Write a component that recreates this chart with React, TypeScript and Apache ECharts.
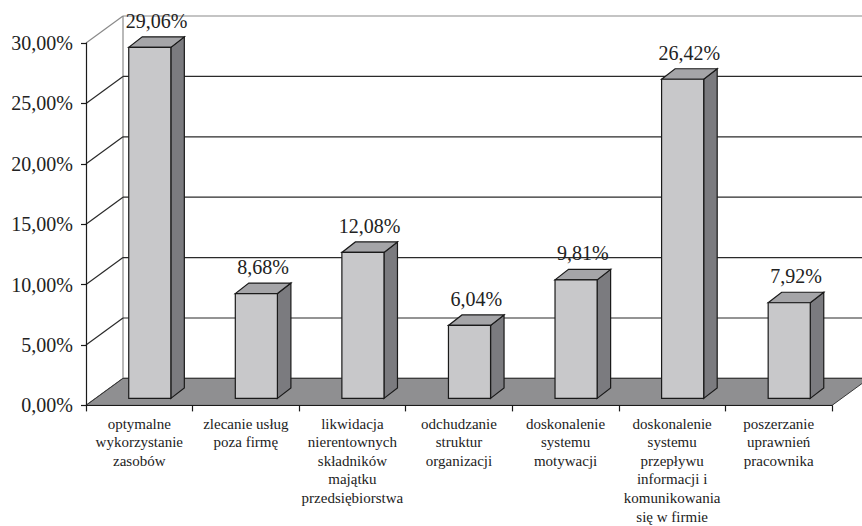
import React, { useEffect, useRef } from "react";
import * as echarts from "echarts";

const categories = [
  "optymalne\nwykorzystanie\nzasobów",
  "zlecanie usług\npoza firmę",
  "likwidacja\nnierentownych\nskładników\nmajątku\nprzedsiębiorstwa",
  "odchudzanie\nstruktur\norganizacji",
  "doskonalenie\nsystemu\nmotywacji",
  "doskonalenie\nsystemu\nprzepływu\ninformacji i\nkomunikowania\nsię w firmie",
  "poszerzanie\nuprawnień\npracownika",
];
const values = [29.06, 8.68, 12.08, 6.04, 9.81, 26.42, 7.92];
const yTicks = [0, 5, 10, 15, 20, 25, 30];

const fmt = (v: number) => v.toFixed(2).replace(".", ",") + "%";
const FONT = "Liberation Serif, Times New Roman, serif";

// 3D geometry (pixels)
const WALL_DX = 37;
const WALL_DY = -27;
const BAR_OX = 10.5;
const BAR_OY = -7;
const BAR_DX = 13.5;
const BAR_DY = -10.5;

export default function App() {
  const ref = useRef<HTMLDivElement>(null);
  useEffect(() => {
    if (!ref.current) return;
    const chart = echarts.init(ref.current, undefined, { renderer: "svg" });
    chart.setOption({
      animation: false,
      backgroundColor: "#ffffff",
      textStyle: { fontFamily: FONT },
      grid: { left: 86, right: 30, top: 43, bottom: 119 },
      xAxis: {
        type: "category",
        data: categories,
        z: 10,
        axisLine: { show: true, lineStyle: { color: "#1a1a1a", width: 1.2 } },
        axisTick: { show: true, length: 6, lineStyle: { color: "#1a1a1a", width: 1.2 } },
        axisLabel: {
          interval: 0,
          margin: 9,
          color: "#222",
          fontFamily: FONT,
          fontSize: 15,
          lineHeight: 18.6,
        },
      },
      yAxis: {
        type: "value",
        min: 0,
        max: 30,
        interval: 5,
        z: 10,
        axisLine: { show: true, lineStyle: { color: "#1a1a1a", width: 1.2 } },
        axisTick: { show: true, length: 5, lineStyle: { color: "#1a1a1a", width: 1.2 } },
        splitLine: { show: false },
        axisLabel: {
          margin: 13,
          color: "#222",
          fontFamily: FONT,
          fontSize: 20,
          formatter: (v: number) => fmt(v),
        },
      },
      series: [
        {
          type: "custom",
          z: 1,
          data: yTicks.map((t) => [0, t]),
          renderItem: (params: any, api: any) => {
            const cs = params.coordSys;
            const t = api.value(1);
            const y = api.coord([0, t])[1];
            const x = cs.x;
            const top = t === 30;
            const col = top ? "#8a8a8a" : "#2a2a2a";
            const children: any[] = [
              {
                type: "line",
                shape: { x1: x, y1: y, x2: x + WALL_DX, y2: y + WALL_DY },
                style: { stroke: col, lineWidth: 1.2 },
              },
              {
                type: "line",
                shape: { x1: x + WALL_DX, y1: y + WALL_DY, x2: x + cs.width + WALL_DX + 40, y2: y + WALL_DY },
                style: { stroke: col, lineWidth: 1.2 },
              },
            ];
            if (t === 0) {
              const yTop = api.coord([0, 30])[1];
              children.push({
                type: "line",
                shape: { x1: x + WALL_DX, y1: y + WALL_DY, x2: x + WALL_DX, y2: yTop + WALL_DY },
                style: { stroke: "#8a8a8a", lineWidth: 1.2 },
              });
              children.push({
                type: "polygon",
                z2: 5,
                shape: {
                  points: [
                    [x, y],
                    [x + cs.width, y],
                    [x + cs.width + WALL_DX, y + WALL_DY],
                    [x + WALL_DX, y + WALL_DY],
                  ],
                },
                style: { fill: "#8f8f91", stroke: "#3a3a3a", lineWidth: 1 },
              });
            }
            return { type: "group", children };
          },
        },
        {
          type: "custom",
          z: 3,
          data: values.map((v, i) => [i, v]),
          renderItem: (params: any, api: any) => {
            const i = api.value(0);
            const v = api.value(1);
            const base = api.coord([i, 0]);
            const topP = api.coord([i, v]);
            const bw = api.size([1, 0])[0];
            const w = bw * 0.395;
            const x0 = base[0] - w / 2 + BAR_OX;
            const x1 = x0 + w;
            const yb = base[1] + BAR_OY;
            const yt = topP[1] + BAR_OY;
            const stroke = "#1a1a1a";
            return {
              type: "group",
              children: [
                {
                  type: "polygon",
                  shape: {
                    points: [
                      [x1, yb],
                      [x1 + BAR_DX, yb + BAR_DY],
                      [x1 + BAR_DX, yt + BAR_DY],
                      [x1, yt],
                    ],
                  },
                  style: { fill: "#7b7b7f", stroke, lineWidth: 1.2 },
                },
                {
                  type: "polygon",
                  shape: {
                    points: [
                      [x0, yt],
                      [x1, yt],
                      [x1 + BAR_DX, yt + BAR_DY],
                      [x0 + BAR_DX, yt + BAR_DY],
                    ],
                  },
                  style: { fill: "#a5a5a8", stroke, lineWidth: 1.2 },
                },
                {
                  type: "rect",
                  shape: { x: x0, y: yt, width: w, height: yb - yt },
                  style: { fill: "#c8c8ca", stroke, lineWidth: 1.2 },
                },
                {
                  type: "text",
                  style: {
                    text: fmt(v),
                    x: x0 + w / 2 + BAR_DX / 2,
                    y: yt + BAR_DY - 6,
                    align: "center",
                    verticalAlign: "bottom",
                    fill: "#222",
                    fontFamily: FONT,
                    fontSize: 20,
                  },
                },
              ],
            };
          },
        },
      ],
    });
    return () => chart.dispose();
  }, []);
  return (
    <div
      ref={ref}
      style={{ position: "fixed", left: 0, top: 0, width: 862, height: 526 }}
    />
  );
}
